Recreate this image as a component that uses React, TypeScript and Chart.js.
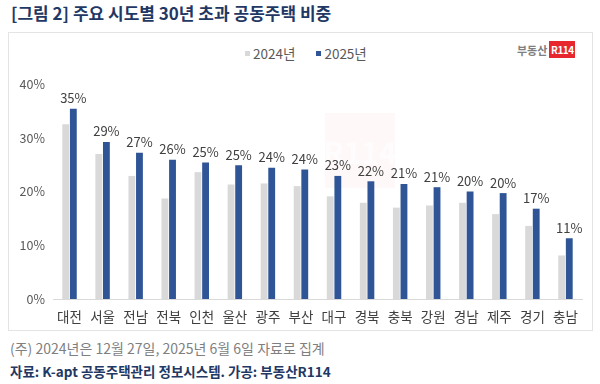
import React, { useEffect, useRef } from "react";
import { Chart, registerables } from "chart.js";

Chart.register(...registerables);

const categories = ["대전", "서울", "전남", "전북", "인천", "울산", "광주", "부산", "대구", "경북", "충북", "강원", "경남", "제주", "경기", "충남"];
const values2024 = [32.5, 27.0, 22.9, 18.7, 23.6, 21.3, 21.5, 21.0, 19.1, 17.9, 17.0, 17.4, 17.9, 15.8, 13.6, 8.1];
const values2025 = [35.4, 29.2, 27.2, 25.9, 25.4, 24.9, 24.4, 24.1, 22.9, 21.9, 21.4, 20.8, 20.0, 19.7, 16.8, 11.3];
const yTicks = [0, 10, 20, 30, 40];

const FONT = "'Noto Sans CJK KR', 'Noto Sans', sans-serif";
const GRAY = "#d9d9d9";
const BLUE = "#2f5597";
const NAVY = "#1f3864";

const labelPlugin = {
  id: "valueLabels",
  afterDatasetsDraw(chart: any) {
    const ctx = chart.ctx;
    const meta = chart.getDatasetMeta(1);
    ctx.save();
    ctx.font = `13px ${FONT}`;
    ctx.fillStyle = "#404040";
    ctx.textAlign = "center";
    ctx.textBaseline = "bottom";
    meta.data.forEach((bar: any, i: number) => {
      const v = chart.data.datasets[1].data[i] as number;
      ctx.fillText(`${Math.round(v)}%`, bar.x, bar.y - 4);
    });
    ctx.restore();
  },
};

function BarChart() {
  const ref = useRef<HTMLCanvasElement | null>(null);
  useEffect(() => {
    if (!ref.current) return;
    const chart = new Chart(ref.current, {
      type: "bar",
      data: {
        labels: categories,
        datasets: [
          { label: "2024년", data: values2024, backgroundColor: GRAY, categoryPercentage: 0.46, barPercentage: 0.9 },
          { label: "2025년", data: values2025, backgroundColor: BLUE, categoryPercentage: 0.46, barPercentage: 0.9 },
        ],
      },
      options: {
        animation: false,
        responsive: false,
        maintainAspectRatio: false,
        layout: { padding: { top: 18, right: 10, bottom: 0, left: 0 } },
        plugins: { legend: { display: false }, tooltip: { enabled: false } },
        scales: {
          x: {
            grid: { display: false, drawTicks: false },
            border: { display: true, color: GRAY, width: 1 },
            ticks: { color: "#404040", font: { family: FONT, size: 13.5 }, padding: 10, maxRotation: 0, autoSkip: false },
            afterFit(scale: any) { scale.height = 29; },
          },
          y: {
            min: 0,
            max: 40,
            grid: { display: false, drawTicks: false },
            border: { display: false },
            afterBuildTicks(scale: any) { scale.ticks = yTicks.map((v) => ({ value: v })); },
            ticks: {
              color: "#595959",
              font: { family: FONT, size: 12.5 },
              padding: 8,
              callback: (v: any) => `${v}%`,
            },
            afterFit(scale: any) { scale.width = 44; },
          },
        },
      },
      plugins: [labelPlugin],
    });
    return () => chart.destroy();
  }, []);
  return <canvas ref={ref} width={583} height={262} style={{ position: "absolute", left: 9, top: 66, width: 583, height: 262 }} />;
}

export default function App() {
  return (
    <div style={{ position: "fixed", left: 0, top: 0, width: 600, height: 384, background: "#fff", overflow: "hidden", fontFamily: FONT }}>
      <div style={{ position: "absolute", left: 11, top: 2, fontSize: 17, fontWeight: 700, color: NAVY, whiteSpace: "nowrap", lineHeight: "22px" }}>
        [그림 2] 주요 시도별 30년 초과 공동주택 비중
      </div>
      <div style={{ position: "absolute", left: 8, top: 32, width: 585, height: 299, border: "1px solid #e4e4e4", boxSizing: "border-box" }} />
      <div style={{ position: "absolute", left: 325, top: 113, width: 70, height: 75, background: "rgba(240,90,90,0.045)", color: "rgba(255,255,255,0.7)", fontWeight: 700, fontSize: 30, display: "flex", alignItems: "center", justifyContent: "center" }}>
        R114
      </div>
      <div style={{ position: "absolute", left: 245, top: 44, height: 18, display: "flex", alignItems: "center", fontSize: 13.5, color: "#595959", whiteSpace: "nowrap" }}>
        <span style={{ display: "inline-block", width: 5, height: 5, background: GRAY, marginRight: 3 }} />
        <span>2024년</span>
        <span style={{ display: "inline-block", width: 5, height: 5, background: BLUE, marginLeft: 21, marginRight: 3 }} />
        <span>2025년</span>
      </div>
      <div style={{ position: "absolute", left: 517, top: 41, height: 17, display: "flex", alignItems: "center", whiteSpace: "nowrap" }}>
        <span style={{ fontSize: 11, color: "#7f7f7f", fontWeight: 700, marginRight: 2 }}>부동산</span>
        <span style={{ display: "inline-flex", alignItems: "center", justifyContent: "center", width: 26, height: 17, background: "#e8262d", color: "#fff", fontSize: 10, fontWeight: 700, letterSpacing: -0.5 }}>R114</span>
      </div>
      <BarChart />
      <div style={{ position: "absolute", left: 10, top: 338, fontSize: 14, color: "#7f7f7f", whiteSpace: "nowrap", lineHeight: "20px" }}>
        (주) 2024년은 12월 27일, 2025년 6월 6일 자료로 집계
      </div>
      <div style={{ position: "absolute", left: 10, top: 361, fontSize: 13.5, fontWeight: 700, color: NAVY, whiteSpace: "nowrap", lineHeight: "20px" }}>
        자료: K-apt 공동주택관리 정보시스템. 가공: 부동산R114
      </div>
    </div>
  );
}
